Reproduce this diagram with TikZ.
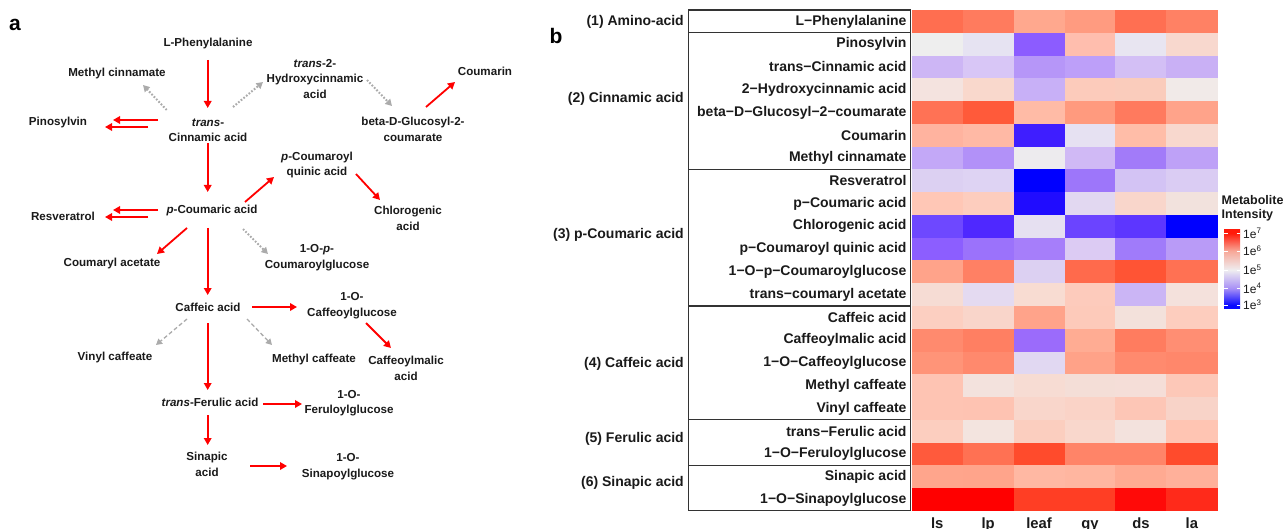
\documentclass[tikz,border=0pt]{standalone}
\usepackage{fontspec}
\setmainfont{Liberation Sans}
\usetikzlibrary{arrows.meta,calc}
\definecolor{hb1}{HTML}{0A0AFF}
\definecolor{hb2}{HTML}{A890F6}
\definecolor{hb3}{HTML}{EFEDF0}
\definecolor{hb4}{HTML}{F7A898}
\definecolor{hb5}{HTML}{FF1A0A}
\definecolor{txt}{HTML}{1A1A1A}
\definecolor{arrgrey}{HTML}{ABABAB}
\definecolor{boxline}{HTML}{333333}
\pgfdeclareverticalshading{heatbar}{100bp}{color(0bp)=(hb1); color(26.9bp)=(hb1); color(37.6bp)=(hb2); color(49.4bp)=(hb3); color(61.5bp)=(hb4); color(72.9bp)=(hb5); color(100bp)=(hb5)}
\def\mkcellcolor#1#2#3#4#5#6\relax{\definecolor{cellc}{RGB}{\number"#1#2,\number"#3#4,\number"#5#6}}
\def\heatcols{FF6E50,FF7B5E,FFA88E,FF9B80,FF6F52,FF8164,EEEEEE,E6E3F2,8C5CFF,FFBEAE,E8E5F1,F8D8CE,CDB6F5,D8C6F6,B696F8,BD9FF9,D3BFF5,C9B0F5,F4E3DF,F9D8CC,C8B0F7,FCCBBB,FACCBC,F1EAE8,FF7255,FF5A3A,FFBBA6,FF9A7E,FF7A5E,FFA38A,FFB39F,FFB9A5,3F1EFF,E6E1F2,FFBDA8,F8D8CE,C3A8F7,B291F8,EDEBEE,D0B9F5,A27BF9,BEA1F7,DCD0F2,DED3F3,0000FF,9D76FA,D3C3F4,DACCF3,FFC7B6,FDCDBE,200CFF,E2D8F1,F9D6CB,F2E2DD,6E48FF,4F28FF,E6E0F1,6B44FF,5D36FF,0000FF,8C5EFF,9B72FB,A67EFA,DCCBF3,A07BFA,B99BF7,FFA38A,FF8064,DCD0F2,FF6A4C,FF5434,FF7153,F6DCD4,E4DAF1,F8DCD2,FDCBBC,CBB5F5,F4E1DC,FCCFC1,F9D5CA,FFA38A,FDCABA,F3E1DB,FDCDBE,FF8A6E,FF7F62,9B6BFB,FFAC93,FF7C5F,FF8E73,FF9478,FF896D,E1D8F2,FFA288,FF8A6E,FF876B,FEC4B3,F3E2DD,F7DCD3,F4DED7,F5DED8,FDC8B8,FEC4B3,FEC3B2,F9D6CB,FAD3C7,FDC6B6,F8D3C8,FCCEBF,F3E4DF,FBCEBF,F9D7CC,F3E2DD,FFC5B3,FF5A3C,FF7153,FF4B2C,FF8468,FF8468,FF4B2C,FFA58C,FFA48B,FFB8A3,FFB6A0,FFAA92,FFB09A,FF0000,FF0000,FF3E24,FF3E24,FF0A08,FF2A1A}
\tikzset{
  met/.style={font=\fontsize{11.6}{15.5}\selectfont\bfseries, align=center, inner sep=1pt, text=txt},
  rarr/.style={draw=red, line width=1.8pt, -{Triangle[length=7pt,width=7.5pt]}},
  gdot/.style={draw=arrgrey, line width=2pt, dash pattern=on 1.7pt off 1.7pt, -{Triangle[length=6.5pt,width=7pt]}},
  gdash/.style={draw=arrgrey, line width=1.3pt, dash pattern=on 4pt off 2.5pt, -{Triangle[length=6pt,width=6.5pt]}},
  rowlab/.style={font=\fontsize{14}{16}\selectfont\bfseries, anchor=east, inner sep=0pt, text=txt},
  grplab/.style={font=\fontsize{14}{16}\selectfont\bfseries, anchor=east, inner sep=0pt, text=txt},
  collab/.style={font=\fontsize{14.8}{16}\selectfont\bfseries, anchor=base, inner sep=0pt, text=txt},
  panel/.style={font=\fontsize{21}{24}\selectfont\bfseries, inner sep=0pt, text=black},
  leglab/.style={font=\fontsize{12.5}{15}\selectfont\bfseries, anchor=west, inner sep=0pt, text=txt},
  ticklab/.style={font=\fontsize{12}{14}\selectfont, anchor=west, inner sep=0pt, text=txt},
}
\begin{document}
\begin{tikzpicture}[x=1pt,y=-1pt]
\fill[white] (0,0) rectangle (1284,529);
\useasboundingbox (0,0) rectangle (1284,529);

% ---------------- panel labels
\node[panel] (pa) at (15,25) {a};
\node[panel] (pb) at (556,36) {b};

% ---------------- panel a : pathway
\node[met] (phe) at (208,44) {L-Phenylalanine};
\node[met] (mc)  at (117,74) {Methyl cinnamate};
\node[met] (hca) at (315,78.7) {\textit{trans}-2-\\Hydroxycinnamic\\acid};
\node[met] (cou) at (485,71) {Coumarin};
\node[met] (bdg) at (413,129.5) {beta-D-Glucosyl-2-\\coumarate};
\node[met] (pino) at (58,123) {Pinosylvin};
\node[met] (tca) at (208,130.5) {\textit{trans}-\\Cinnamic acid};
\node[met] (pcq) at (317,165) {\textit{p}-Coumaroyl\\quinic acid};
\node[met] (chl) at (408,218.5) {Chlorogenic\\acid};
\node[met] (pca) at (212,211) {\textit{p}-Coumaric acid};
\node[met] (res) at (63,216) {Resveratrol};
\node[met] (cac) at (112,264) {Coumaryl acetate};
\node[met] (pcg) at (317,257.5) {1-O-\textit{p}-\\Coumaroylglucose};
\node[met] (caf) at (208,307) {Caffeic acid};
\node[met] (cgl) at (352,305.5) {1-O-\\Caffeoylglucose};
\node[met] (cml) at (406,368.5) {Caffeoylmalic\\acid};
\node[met] (vca) at (115,357) {Vinyl caffeate};
\node[met] (mca) at (314,359) {Methyl caffeate};
\node[met] (fer) at (210,402) {\textit{trans}-Ferulic acid};
\node[met] (fgl) at (349,403) {1-O-\\Feruloylglucose};
\node[met] (sin) at (207,464.5) {Sinapic\\acid};
\node[met] (sgl) at (348,466.5) {1-O-\\Sinapoylglucose};

\draw[rarr] ($(phe)+(-0.3,16)$) -- ($(tca)+(-0.3,-22.5)$);
\draw[gdot] ($(tca)+(-41.3,-20.5)$) -- ($(mc)+(26,11)$);
\draw[gdot] ($(tca)+(25,-23.5)$) -- ($(hca)+(-52,3.3)$);
\draw[gdot] ($(hca)+(52,1.3)$) -- ($(bdg)+(-21,-23.5)$);
\draw[rarr] ($(bdg)+(13,-22.5)$) -- ($(cou)+(-30,11)$);
\draw[rarr] ($(tca)+(-50,-10.5)$) -- ($(pino)+(55,-3)$);
\draw[rarr] ($(tca)+(-60,-3.5)$) -- ($(pino)+(47,4)$);
\draw[rarr] ($(tca)+(-0.3,12.5)$) -- ($(pca)+(-4.3,-19)$);
\draw[rarr] ($(pca)+(33,-9)$) -- ($(pcq)+(-43,12)$);
\draw[rarr] ($(pcq)+(39,9)$) -- ($(chl)+(-28,-18.5)$);
\draw[rarr] ($(pca)+(-54,-1)$) -- ($(res)+(50,-6)$);
\draw[rarr] ($(pca)+(-64,6)$) -- ($(res)+(42,1)$);
\draw[rarr] ($(pca)+(-25,17)$) -- ($(cac)+(45,-10)$);
\draw[gdot] ($(pca)+(31,18)$) -- ($(pcg)+(-49,-3.5)$);
\draw[rarr] ($(pca)+(-4.3,17)$) -- ($(caf)+(-0.3,-12)$);
\draw[rarr] ($(caf)+(44,0)$) -- ($(cgl)+(-55,1.5)$);
\draw[rarr] ($(cgl)+(14,17.5)$) -- ($(cml)+(-15,-20.5)$);
\draw[gdash] ($(caf)+(-21,12)$) -- ($(vca)+(41,-12)$);
\draw[gdash] ($(caf)+(39,12)$) -- ($(mca)+(-42,-14)$);
\draw[rarr] ($(caf)+(-0.3,16)$) -- ($(fer)+(-2.3,-12)$);
\draw[rarr] ($(fer)+(53,2)$) -- ($(fgl)+(-47,1)$);
\draw[rarr] ($(fer)+(-2.3,13)$) -- ($(sin)+(0.7,-19.5)$);
\draw[rarr] ($(sin)+(43,1.5)$) -- ($(sgl)+(-61,-0.5)$);

% ---------------- panel b : heatmap
\def\hmx{911.7}
\def\hmy{10}
\def\cw{50.93}
\def\rh{22.77}
\foreach \hx [count=\nn] in \heatcols {
  \expandafter\mkcellcolor\hx\relax
  \pgfmathtruncatemacro{\ci}{mod(\nn-1,6)}%
  \pgfmathtruncatemacro{\rj}{(\nn-1-\ci)/6}%
  \pgfmathsetmacro{\xa}{\hmx+\ci*\cw}%
  \pgfmathsetmacro{\ya}{\hmy+\rj*\rh}%
  \pgfmathsetmacro{\xb}{\xa+\cw+0.4}%
  \pgfmathsetmacro{\yb}{\ya+\rh+0.4}%
  \fill[cellc] (\xa,\ya) rectangle (\xb,\yb);
}

% row labels
\foreach \lt [count=\ri] in {L−Phenylalanine, Pinosylvin, trans−Cinnamic acid, 2−Hydroxycinnamic acid,
  beta−D−Glucosyl−2−coumarate, Coumarin, Methyl cinnamate, Resveratrol, p−Coumaric acid,
  Chlorogenic acid, p−Coumaroyl quinic acid, 1−O−p−Coumaroylglucose, trans−coumaryl acetate,
  Caffeic acid, Caffeoylmalic acid, 1−O−Caffeoylglucose, Methyl caffeate, Vinyl caffeate,
  trans−Ferulic acid, 1−O−Feruloylglucose, Sinapic acid, 1−O−Sinapoylglucose}{
  \pgfmathsetmacro{\ly}{\hmy+(\ri-0.5)*\rh}
  \node[rowlab] (lab\ri) at (906.7,\ly) {\lt};
}

% label box with group separators
\draw[boxline, line width=1.1pt] (688.3,10) rectangle (910.7,510.7);
\foreach \g in {1,7,13,18,20}{
  \pgfmathsetmacro{\sy}{\hmy+\g*\rh}
  \draw[boxline, line width=1.1pt] (688.3,\sy) -- (910.7,\sy);
}

% group labels
\node[grplab] (g1) at (684,22) {(1) Amino-acid};
\node[grplab] (g2) at (684,99) {(2) Cinnamic acid};
\node[grplab] (g3) at (684,235) {(3) p-Coumaric acid};
\node[grplab] (g4) at (684,364) {(4) Caffeic acid};
\node[grplab] (g5) at (684,438.5) {(5) Ferulic acid};
\node[grplab] (g6) at (684,483) {(6) Sinapic acid};

% column labels (cut by the lower edge, as in the original)
\foreach \lt [count=\ki] in {ls,lp,leaf,gy,ds,la}{
  \pgfmathsetmacro{\lx}{\hmx+(\ki-0.5)*\cw}
  \node[collab] (col\ki) at (\lx,528.3) {\lt};
}

% legend
\node[leglab] (lt1) at (1221.5,200) {Metabolite};
\node[leglab] (lt2) at (1221.5,215.5) {Intensity};
\shade[shading=heatbar] (1224,230) rectangle (1240,308);
\foreach \ty/\te [count=\ii] in {233.3/7,251/6,270/5,288.3/4,305/3}{
  \draw[white, line width=0.8pt] (1224,\ty) -- (1227.5,\ty);
  \draw[white, line width=0.8pt] (1236.5,\ty) -- (1240,\ty);
  \node[ticklab] (tk\ii) at (1243,\ty) {1e\textsuperscript{\te}};
}
\end{tikzpicture}
\end{document}
